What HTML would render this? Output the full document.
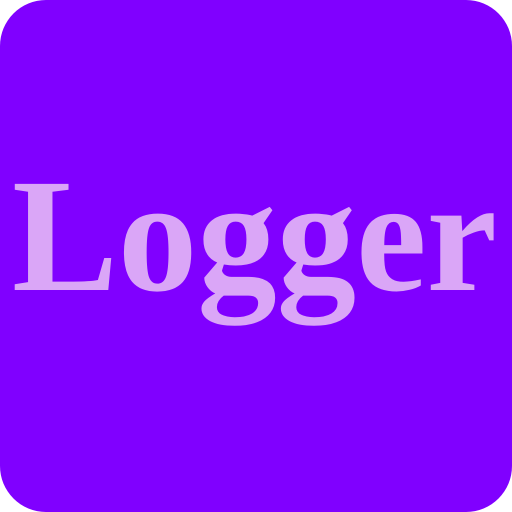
<!DOCTYPE html>
<html>
<head>
<meta charset="utf-8">
<style>
  html,body{margin:0;padding:0;background:#fff;}
  svg{display:block;}
</style>
</head>
<body>
<svg width="512" height="512" viewBox="0 0 512 512">
  <rect x="0" y="0" width="512" height="512" rx="46" ry="46" fill="#8000FF"/>
  <text x="12" y="290" font-family="'Liberation Serif', serif" font-weight="bold" font-size="162" fill="#DAA6F7" textLength="485" lengthAdjust="spacingAndGlyphs">Logger</text>
</svg>
</body>
</html>
